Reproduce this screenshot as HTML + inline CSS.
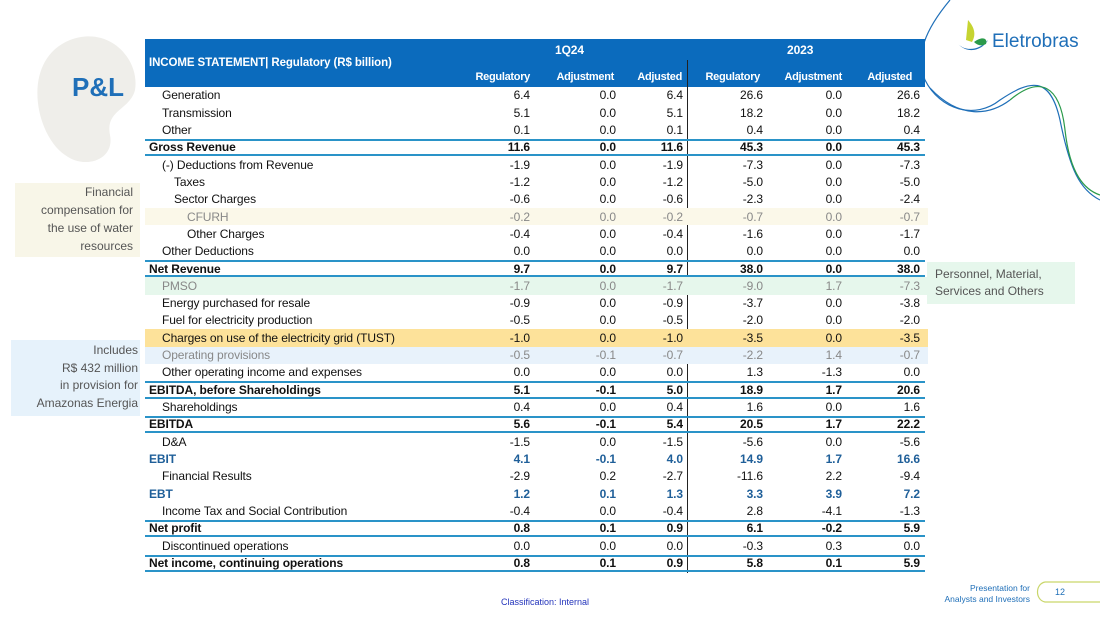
<!DOCTYPE html>
<html><head><meta charset="utf-8">
<style>
body{margin:0;width:1100px;height:619px;position:relative;overflow:hidden;background:#fff;font-family:"Liberation Sans",sans-serif;}
.abs{position:absolute;}
.cell{position:absolute;font-size:12px;line-height:17px;white-space:nowrap;letter-spacing:-0.1px;}
.num{text-align:right;width:80px;}
</style></head><body>
<svg class="abs" style="left:0;top:0" width="1100" height="619">
<path d="M70 40 C110 25 140 60 135 90 C130 110 105 110 110 135 C115 160 85 170 65 155 C35 135 20 60 70 40Z" fill="#efeeea"/>
<path d="M950 0 C925 30 915 55 925 80 C940 110 975 120 1000 100 C1030 80 1050 75 1060 120 C1070 170 1080 190 1100 200" fill="none" stroke="#1f6fb8" stroke-width="1.2"/>
<path d="M930 88 C960 120 990 115 1010 100" fill="none" stroke="#1f6fb8" stroke-width="1.2"/>
<path d="M1010 100 C1040 75 1060 85 1065 130 C1070 175 1085 190 1100 195" fill="none" stroke="#2a9a4a" stroke-width="1.2"/>
<path d="M1045 582 C1035 584 1035 600 1045 602 L1100 602 M1045 582 L1100 582" fill="none" stroke="#c9d66a" stroke-width="1.2"/>
<path d="M968 20 C975 28 976 35 972 42 L966 40 Z" fill="#c6d431"/>
<path d="M958 44 C966 52 980 50 988 40 C984 48 970 56 958 44Z" fill="#1f6fb8"/>
<path d="M974 42 C982 36 988 38 986 44 C982 46 978 46 974 42Z" fill="#2a9a4a"/>
</svg>
<div class="abs" style="left:72px;top:72px;font-size:26px;font-weight:bold;color:#1f6fb8">P&amp;L</div>
<div class="abs" style="left:992px;top:31px;font-size:19px;color:#1f6fb8">Eletrobras</div>
<div class="abs" style="left:15px;top:183px;width:118px;height:74px;background:#f8f6e8;padding-right:7px;text-align:right;font-size:12px;line-height:18px;color:#555">Financial<br>compensation for<br>the use of water<br>resources</div>
<div class="abs" style="left:11px;top:340px;height:76px;background:#e6f2fb;text-align:right;font-size:12px;line-height:17.5px;color:#555;padding-top:2px;box-sizing:border-box;padding-right:2px;width:129px">Includes<br>R$ 432 million<br>in provision for<br>Amazonas Energia</div>
<div class="abs" style="left:927px;top:262px;height:42px;background:#e6f7ec;padding-left:8px;font-size:12px;line-height:17px;color:#555;padding-top:4px;box-sizing:border-box;width:148px">Personnel, Material,<br>Services and Others</div>
<div class="abs" style="left:145px;top:39px;width:780px;height:48px;background:#0b6bbd">
<div class="cell" style="left:4px;top:16px;color:#fff;font-weight:bold;font-size:11.5px">INCOME STATEMENT| Regulatory (R$ billion)</div>
<div class="cell" style="left:410px;top:3px;color:#fff;font-weight:bold">1Q24</div>
<div class="cell" style="left:642px;top:3px;color:#fff;font-weight:bold">2023</div>
</div>
<div class="abs" style="left:687px;top:60px;width:1px;height:513px;background:#222"></div>
<div id="tbl"></div>
<div class="abs" style="left:501px;top:597px;font-size:9px;color:#2233bb">Classification: Internal</div>
<div class="abs" style="left:920px;top:583px;font-size:8.5px;color:#1f6fb8;text-align:right;width:110px;line-height:11px">Presentation for<br>Analysts and Investors</div>
<div class="abs" style="left:1055px;top:587px;font-size:9px;color:#1f6fb8">12</div>
<script>
const colHeads=["Regulatory","Adjustment","Adjusted","Regulatory","Adjustment","Adjusted"];
const labels=["Generation","Transmission","Other","Gross Revenue","(-) Deductions from Revenue","Taxes","Sector Charges","CFURH","Other Charges","Other Deductions","Net Revenue","PMSO","Energy purchased for resale","Fuel for electricity production","Charges on use of the electricity grid (TUST)","Operating provisions","Other operating income and expenses","EBITDA, before Shareholdings","Shareholdings","EBITDA","D&A","EBIT","Financial Results","EBT","Income Tax and Social Contribution","Net profit","Discontinued operations","Net income, continuing operations"];
const indents=[1,1,1,0,1,2,2,3,3,1,0,1,1,1,1,1,1,0,1,0,1,0,1,0,1,0,1,0];
const kinds=["","","","b","","","","cf","","","b","pm","","","tu","op","","b","","b","","e","","e","","b","","b"];
const reg1q24=[6.4,5.1,0.1,11.6,-1.9,-1.2,-0.6,-0.2,-0.4,0.0,9.7,-1.7,-0.9,-0.5,-1.0,-0.5,0.0,5.1,0.4,5.6,-1.5,4.1,-2.9,1.2,-0.4,0.8,0.0,0.8];
const adj1q24=[0.0,0.0,0.0,0.0,0.0,0.0,0.0,0.0,0.0,0.0,0.0,0.0,0.0,0.0,0.0,-0.1,0.0,-0.1,0.0,-0.1,0.0,-0.1,0.2,0.1,0.0,0.1,0.0,0.1];
const adjd1q24=[6.4,5.1,0.1,11.6,-1.9,-1.2,-0.6,-0.2,-0.4,0.0,9.7,-1.7,-0.9,-0.5,-1.0,-0.7,0.0,5.0,0.4,5.4,-1.5,4.0,-2.7,1.3,-0.4,0.9,0.0,0.9];
const reg2023=[26.6,18.2,0.4,45.3,-7.3,-5.0,-2.3,-0.7,-1.6,0.0,38.0,-9.0,-3.7,-2.0,-3.5,-2.2,1.3,18.9,1.6,20.5,-5.6,14.9,-11.6,3.3,2.8,6.1,-0.3,5.8];
const adj2023=[0.0,0.0,0.0,0.0,0.0,0.0,0.0,0.0,0.0,0.0,0.0,1.7,0.0,0.0,0.0,1.4,-1.3,1.7,0.0,1.7,0.0,1.7,2.2,3.9,-4.1,-0.2,0.3,0.1];
const adjd2023=[26.6,18.2,0.4,45.3,-7.3,-5.0,-2.4,-0.7,-1.7,0.0,38.0,-7.3,-3.8,-2.0,-3.5,-0.7,0.0,20.6,1.6,22.2,-5.6,16.6,-9.4,7.2,-1.3,5.9,0.0,5.9];
const series=[reg1q24,adj1q24,adjd1q24,reg2023,adj2023,adjd2023];
const colRight=[530,616,683,763,842,920];
const headRight=[530,614,682,760,842,912];
const rowY=i=>86.7+i*17.33;
const bg={cf:"#fbf8e9",pm:"#e6f7ec",tu:"#fde29a",op:"#e8f2fb"};
const tbl=document.getElementById('tbl');
colHeads.forEach((h,j)=>{const d=document.createElement('div');d.className='cell num';


d.style.left=(headRight[j]-80)+'px';d.style.top='69px';d.style.color='#fff';d.style.fontWeight='bold';d.style.fontSize='11px';d.style.letterSpacing='-0.3px';d.textContent=h;tbl.appendChild(d);});
labels.forEach((lab,i)=>{const y=rowY(i),k=kinds[i];
const row=document.createElement('div');row.className='abs';


row.style.left='145px';row.style.top=y+'px';row.style.width='783px';row.style.height='17.3px';
if(bg[k])row.style.background=bg[k];
if(k=='b'){row.style.borderTop='2px solid #2a93c8';row.style.borderBottom='2px solid #2a93c8';row.style.boxSizing='border-box';row.style.width='780px';}
tbl.appendChild(row);
const color=k=='e'?'#1f5f99':(k=='cf'||k=='pm'||k=='op')?'#888':'#111';
const bold=(k=='b'||k=='e')?'bold':'normal';
const l=document.createElement('div');l.className='cell';


l.style.left=[149,162,174,187][indents[i]]+'px';l.style.top=(y+0.5)+'px';l.style.color=color;l.style.fontWeight=bold;l.textContent=lab;tbl.appendChild(l);
series.forEach((s,j)=>{const d=document.createElement('div');d.className='cell num';


d.style.left=(colRight[j]-80)+'px';d.style.top=(y+0.5)+'px';d.style.color=color;d.style.fontWeight=bold;d.textContent=s[i].toFixed(1);tbl.appendChild(d);});
});
</script>
</body></html>
